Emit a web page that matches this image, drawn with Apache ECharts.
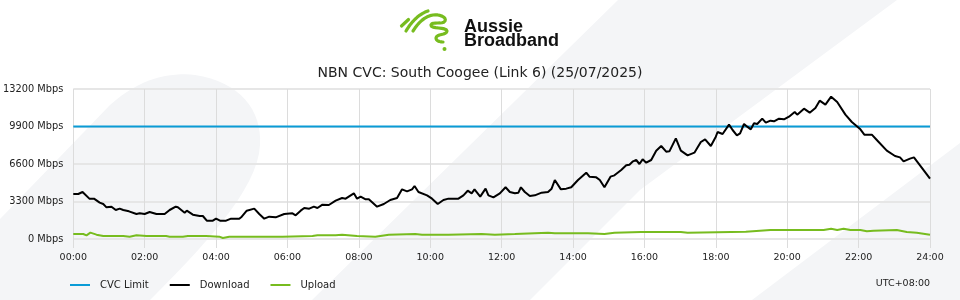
<!DOCTYPE html>
<html><head><meta charset="utf-8">
<script src="https://cdn.jsdelivr.net/npm/echarts@6/dist/echarts.min.js"></script>
<style>html,body{margin:0;padding:0;background:#fff}#c{width:960px;height:300px}</style>
</head><body><div id="c"></div>
<script>
const xTickHours = [0,2,4,6,8,10,12,14,16,18,20,22,24];
const xTickLabels = ['00:00','02:00','04:00','06:00','08:00','10:00','12:00','14:00','16:00','18:00','20:00','22:00','24:00'];
const yTickValues = [0,3300,6600,9900,13200];
const seriesNames = ['CVC Limit','Download','Upload'];
const cvcLimitMbps = 9900;
const downloadHours = [0.00,0.14,0.26,0.45,0.58,0.74,0.84,0.93,1.07,1.19,1.30,1.40,1.56,1.77,1.86,2.00,2.14,2.33,2.56,2.70,2.87,2.93,3.12,3.18,3.35,3.54,3.63,3.74,3.91,4.00,4.11,4.28,4.42,4.65,4.72,4.86,5.07,5.21,5.35,5.49,5.67,5.72,5.91,6.14,6.23,6.37,6.47,6.61,6.74,6.84,6.98,7.16,7.35,7.53,7.63,7.86,7.95,8.05,8.19,8.28,8.51,8.70,8.88,9.07,9.21,9.35,9.49,9.56,9.67,9.91,10.05,10.21,10.37,10.51,10.79,10.93,11.05,11.16,11.24,11.40,11.55,11.63,11.77,11.95,12.11,12.23,12.37,12.47,12.54,12.65,12.79,12.93,13.12,13.30,13.40,13.49,13.54,13.66,13.81,13.95,14.14,14.37,14.46,14.65,14.75,14.88,15.05,15.16,15.35,15.49,15.58,15.68,15.77,15.86,15.95,16.05,16.19,16.33,16.47,16.61,16.70,16.88,17.02,17.21,17.40,17.58,17.70,17.86,18.00,18.05,18.19,18.37,18.47,18.59,18.68,18.79,18.88,18.98,19.07,19.16,19.30,19.40,19.53,19.63,19.77,19.91,20.05,20.21,20.28,20.47,20.63,20.79,20.91,21.07,21.23,21.40,21.63,21.81,22.05,22.16,22.37,22.51,22.79,23.02,23.16,23.26,23.44,23.55,23.72,24.00];
const downloadMbps = [3960,3960,4136,3550,3550,3197,3080,2787,2845,2552,2670,2552,2435,2200,2260,2200,2376,2200,2200,2552,2845,2787,2317,2493,2140,2024,2024,1613,1613,1790,1613,1613,1790,1790,1965,2493,2670,2200,1790,1965,1907,2024,2200,2260,2083,2493,2728,2670,2845,2728,3020,2992,3373,3608,3550,4020,3550,3725,3490,3490,2845,3080,3432,3608,4370,4195,4370,4664,4136,3843,3550,3080,3432,3550,3550,3843,4250,4020,4370,3725,4430,3843,3667,4020,4550,4136,4020,4078,4550,4136,3785,3843,4078,4136,4430,5192,5133,4370,4430,4550,5192,5837,5485,5427,5192,4550,5485,5603,6072,6483,6541,6835,6952,6600,7010,6717,6952,7773,8184,7685,7714,8858,7773,7362,7597,8536,8770,8184,9005,9416,9240,10060,9592,9122,9298,10120,9885,9650,10178,10120,10590,10238,10413,10355,10590,10530,10766,11176,10942,11470,11118,11528,12173,11820,12525,12056,10942,10296,9650,9180,9180,8712,7773,7304,7186,6835,7069,7186,6483,5310];
const uploadHours = [0.00,0.28,0.37,0.48,0.65,0.84,1.21,1.26,1.40,1.58,1.77,2.05,2.60,2.70,3.07,3.21,3.72,4.09,4.19,4.37,5.68,5.72,5.86,6.70,6.84,7.26,7.35,7.53,7.95,8.46,8.84,9.58,9.77,10.33,10.51,11.44,11.81,12.37,13.30,13.49,14.42,14.88,15.16,15.91,17.02,17.21,18.84,18.89,19.53,21.02,21.23,21.40,21.58,21.77,22.05,22.23,22.42,23.07,23.35,23.63,24.00];
const uploadMbps = [440,440,323,557,381,264,264,381,264,205,323,264,264,205,205,264,264,205,88,205,205,88,205,264,323,323,323,381,264,205,381,440,381,381,381,440,381,440,557,500,500,440,557,616,616,557,645,733,792,792,909,792,909,792,792,675,733,792,616,557,381];

const FONT = 'DejaVu Sans';
const zip = (a, b) => a.map((v, i) => [v, b[i]]);
// sample a chain of cubic bezier segments into polyline points (decoration only)
function bezierChain(start, segs, n) {
  const pts = [start.slice()];
  let p0 = start;
  segs.forEach(s => {
    const [c1x, c1y, c2x, c2y, ex, ey] = s;
    for (let i = 1; i <= n; i++) {
      const t = i / n, u = 1 - t;
      pts.push([
        u*u*u*p0[0] + 3*u*u*t*c1x + 3*u*t*t*c2x + t*t*t*ex,
        u*u*u*p0[1] + 3*u*u*t*c1y + 3*u*t*t*c2y + t*t*t*ey
      ]);
    }
    p0 = [ex, ey];
  });
  return pts;
}
const leafPts = [[-30, 300], [-30, 250], [110, 105]].concat(
  bezierChain([110, 105], [[140, 78, 170, 72, 195, 75], [240, 82, 262, 110, 260, 145], [258, 190, 200, 250, 150, 300]], 16).slice(1));
const swirlPts = bezierChain([413, 31], [
  [418, 23, 425, 16, 433, 15], [439, 14, 447, 17, 445, 21], [443, 25, 432, 21, 431, 25],
  [430, 29, 447, 27, 447, 31], [447, 35, 436, 34, 436, 38], [436, 41, 440, 42, 443, 42]], 8);
const arcPts = bezierChain([406, 31], [[410, 24, 418, 14, 428, 11]], 10);

const chart = echarts.init(document.getElementById('c'), null, {renderer: 'canvas'});
const bg = '#f4f5f7';
const green = '#77bc1f';
chart.setOption({
  animation: false,
  backgroundColor: 'transparent',
  title: {
    text: 'NBN CVC: South Coogee (Link 6) (25/07/2025)',
    left: 'center', top: 61,
    textStyle: {fontFamily: FONT, fontSize: 14, fontWeight: 'normal', color: '#222'}
  },
  grid: {left: 70, right: 30, top: 89, bottom: 61, containLabel: false},
  legend: {
    left: 70, top: 280, padding: 0,
    icon: 'rect', itemWidth: 20, itemHeight: 2, itemGap: 21,
    data: seriesNames,
    textStyle: {fontFamily: FONT, fontSize: 10, color: '#222', padding: [0, 0, 0, 5]}
  },
  xAxis: {
    type: 'value', min: 0, max: 24, interval: 1,
    axisLine: {show: false},
    axisTick: {show: true, customValues: xTickHours, length: 9, lineStyle: {color: '#dcdcdc', width: 1}},
    axisLabel: {
      customValues: xTickHours, margin: 14,
      formatter: v => xTickLabels[xTickHours.indexOf(v)] || '',
      fontFamily: FONT, fontSize: 9.5, color: '#222'
    },
    splitLine: {show: true, lineStyle: {color: '#dcdcdc', width: 1}}
  },
  yAxis: {
    type: 'value', min: 0, max: 13200, interval: 3300,
    axisLine: {show: false}, axisTick: {show: false},
    axisLabel: {formatter: v => v + ' Mbps', margin: 10, fontFamily: FONT, fontSize: 9.8, color: '#222'},
    splitLine: {show: true, lineStyle: {color: '#e6e6e6', width: 2}}
  },
  graphic: [
    {type: 'polygon', z: -10, silent: true, shape: {points: leafPts}, style: {fill: bg}},
    {type: 'polygon', z: -10, silent: true,
     shape: {points: [[312,300],[618,0],[897,0],[640,190],[530,300]]}, style: {fill: bg}},
    {type: 'polygon', z: -10, silent: true,
     shape: {points: [[752,300],[960,143],[960,300]]}, style: {fill: bg}},
    {type: 'line', silent: true, shape: {x1: 401.5, y1: 26, x2: 408.5, y2: 19.5},
     style: {stroke: green, lineWidth: 3.2, lineCap: 'round'}},
    {type: 'polyline', silent: true, shape: {points: arcPts},
     style: {stroke: green, lineWidth: 3.2, lineCap: 'round', lineJoin: 'round', fill: null}},
    {type: 'polyline', silent: true, shape: {points: swirlPts},
     style: {stroke: green, lineWidth: 3.2, lineCap: 'round', lineJoin: 'round', fill: null}},
    {type: 'circle', silent: true, shape: {cx: 444.5, cy: 49, r: 2}, style: {fill: green}},
    {type: 'text', silent: true, x: 464, y: 27.5,
     style: {text: 'Aussie', font: 'bold 18px "Liberation Sans", Arial, sans-serif', fill: '#111', verticalAlign: 'middle'}},
    {type: 'text', silent: true, x: 464, y: 41.5,
     style: {text: 'Broadband', font: 'bold 18px "Liberation Sans", Arial, sans-serif', fill: '#111', verticalAlign: 'middle'}},
    {type: 'text', silent: true, x: 930, y: 284,
     style: {text: 'UTC+08:00', font: '9.5px "DejaVu Sans"', fill: '#222', align: 'right', verticalAlign: 'middle'}}
  ],
  series: [
    {name: seriesNames[0], type: 'line', data: [[0, cvcLimitMbps], [24, cvcLimitMbps]], symbol: 'none',
     lineStyle: {color: '#0a9bd6', width: 2}, itemStyle: {color: '#0a9bd6'}},
    {name: seriesNames[1], type: 'line', data: zip(downloadHours, downloadMbps), symbol: 'none',
     lineStyle: {color: '#000', width: 2}, itemStyle: {color: '#000'}},
    {name: seriesNames[2], type: 'line', data: zip(uploadHours, uploadMbps), symbol: 'none',
     lineStyle: {color: green, width: 2}, itemStyle: {color: green}}
  ]
});
</script></body></html>
